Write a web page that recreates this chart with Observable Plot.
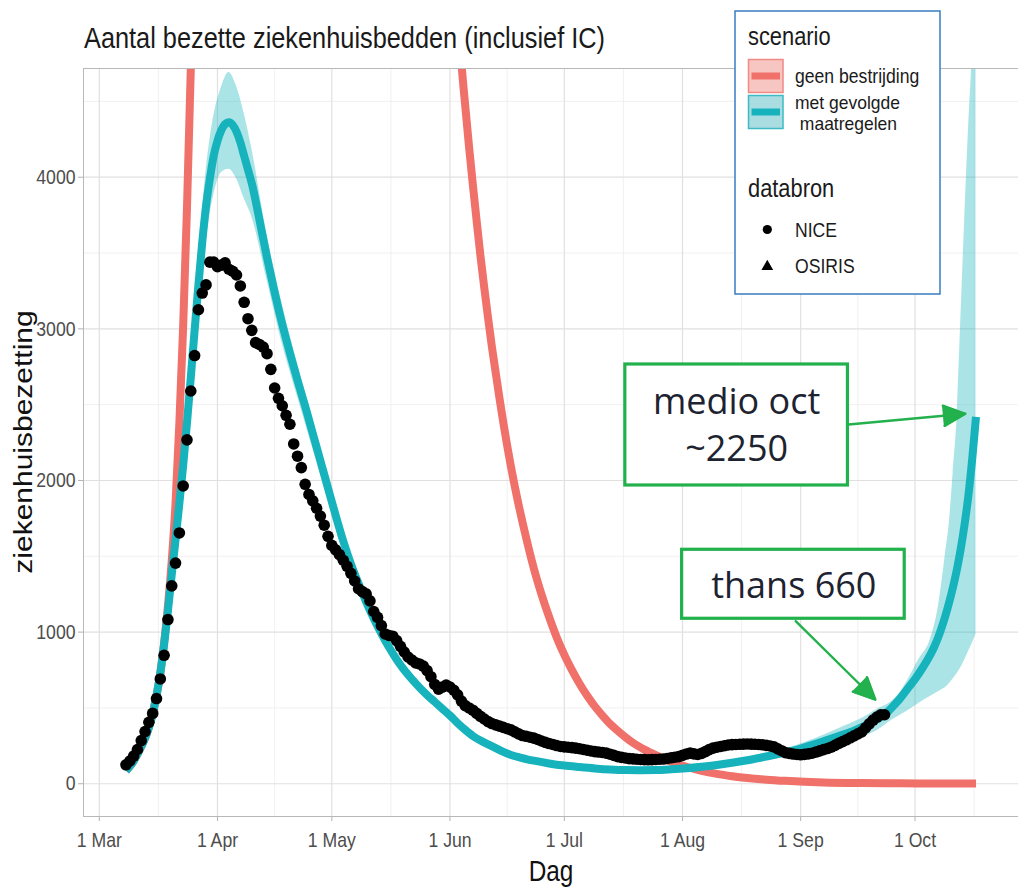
<!DOCTYPE html>
<html><head><meta charset="utf-8">
<script src="https://cdn.jsdelivr.net/npm/d3@7"></script>
<script src="https://cdn.jsdelivr.net/npm/@observablehq/plot@0.6"></script>
<style>
html,body{margin:0;padding:0;background:#fff;}
#wrap{position:relative;width:1018px;height:889px;overflow:hidden;background:#fff;}
#plot{position:absolute;left:0;top:60px;}
#over{position:absolute;left:0;top:0;}
</style></head>
<body><div id="wrap"><div id="plot"></div><svg id="over" width="1018" height="889"></svg></div>
<script>
// ---------- texts ----------
const chartTitle = "Aantal bezette ziekenhuisbedden (inclusief IC)";
const xTitle = "Dag";
const yTitle = "ziekenhuisbezetting";
const legendScenarioTitle = "scenario";
const legendScenarioLabels = [["geen bestrijding"], ["met gevolgde", " maatregelen"]];
const legendSourceTitle = "databron";
const legendSourceLabels = ["NICE", "OSIRIS"];

// ---------- axes ----------
const monthTicks = ["2020-03-01","2020-04-01","2020-05-01","2020-06-01","2020-07-01","2020-08-01","2020-09-01","2020-10-01"];
const monthLabels = ["1 Mar","1 Apr","1 May","1 Jun","1 Jul","1 Aug","1 Sep","1 Oct"];
const minorXTicks = ["2020-03-16T12:00Z","2020-04-16T00:00Z","2020-05-16T12:00Z","2020-06-16T00:00Z","2020-07-16T12:00Z","2020-08-16T12:00Z","2020-09-16T00:00Z","2020-10-16T12:00Z"];
const yTicks = [0, 1000, 2000, 3000, 4000];
const yMinorTicks = [500, 1500, 2500, 3500, 4500];
const xDomainDays = [-4.15, 241.15];   // days relative to 1 March 2020
const yDomain = [-216, 4717];

// ---------- NICE data: daily from 7 March 2020 ----------
const niceFirstDay = 7; // days after 1 March
const niceValues = [
 125,150,182,226,285,344,405,464,562,691,847,1083,1305,1455,1654,1964,2268,2590,2824,3126,
 3236,3290,3440,3440,3410,3420,3435,3393,3380,3355,3283,3175,3067,2990,2909,2897,2880,2836,2733,2610,
 2542,2493,2430,2371,2241,2160,2085,1975,1908,1866,1817,1765,1705,1632,1572,1543,1511,1474,1434,1388,
 1337,1286,1267,1252,1206,1136,1097,1043,988,978,973,944,906,869,836,816,797,790,776,746,
 706,655,624,637,651,638,617,586,545,515,500,485,464,444,427,410,397,388,380,372,
 363,355,342,329,318,313,307,301,292,282,273,265,259,252,246,243,241,238,235,231,
 226,221,216,212,209,206,202,195,187,179,174,170,166,164,162,160,159,158,159,160,
 162,163,167,171,175,179,187,196,202,197,193,200,212,225,235,241,246,251,256,258,
 259,260,261,262,261,260,259,257,253,249,243,230,218,205,200,196,193,191,194,197,
 201,209,217,225,232,241,253,266,278,290,303,316,329,342,368,395,420,440,455,455
];

// ---------- model: met gevolgde maatregelen ----------
const tealDays = [7,8,9,10,11,12,13,14,15,16,17,18,19,20,21,22,23,24,25,26,27,28,29,30,31,32,33,34,35,36,37,38,39,40,
 42,44,46,48,50,52,54,56,58,60,62,64,66,68,70,72,74,76,78,80,82,84,86,88,90,92,94,96,98,100,102,104,106,108,110,112,114,
 118,122,126,130,134,138,142,146,150,154,158,162,166,170,174,178,182,186,190,194,198,
 201,204,206,208,210,212,214,216,218,219,220,221,222,223,224,225,226,227,228,229,230];
const tealValues = [85,115,150,195,245,300,370,460,580,730,920,1140,1380,1610,1850,2100,2380,2680,2990,3290,3570,3810,3990,4140,4240,4310,4350,4363,4345,4300,4230,4140,4050,3960,
 3720,3470,3240,3030,2840,2660,2490,2310,2130,1950,1770,1600,1450,1320,1200,1090,990,900,820,750,690,635,585,540,495,450,400,355,315,285,260,235,210,190,175,163,152,
 134,120,110,101,94,90,89,90,95,102,112,124,138,155,175,195,218,248,280,315,350,
 385,425,455,505,560,625,690,765,850,900,960,1030,1110,1200,1300,1415,1550,1710,1900,2140,2420];
const ribbonDays = [7,10,13,16,19,22,25,28,30,32,34,36,38,40,44,48,52,56,60,64,68,72,76,80,84,88,92,96,100,104,108,112,118,126,134,142,150,158,166,174,182,190,196,200,204,208,210,212,215,218,220,221,222,223,224,225,226,227,228,229,230];
const ribbonLow  = [80,185,350,690,1310,1990,2830,3580,3880,4030,4053,3990,3860,3740,3320,2900,2550,2210,1870,1530,1265,1045,865,720,610,518,432,340,272,224,180,155,127,104,88,83,88,102,123,150,182,228,270,305,350,420,450,480,530,575,605,620,635,660,690,725,765,815,870,925,985];
const ribbonHigh = [90,205,390,770,1450,2210,3150,4040,4400,4590,4691,4600,4420,4190,3620,3160,2770,2410,2030,1670,1375,1135,935,780,660,562,468,370,298,248,202,172,142,118,101,96,103,122,152,195,245,320,385,430,490,545,600,680,820,950,1150,1320,1520,1720,2050,2400,3050,3700,4300,4800,5400];

// ---------- model: geen bestrijding ----------
const redDays = [7,9,11,13,15,16,17,18,19,20,21,22,23,24,25,26,28,32,40,50,60,70,80,86,90,92,94,95,96,97,98,99,100,101,102,103,104,105,106,107,108,109,110,112,114,116,118,120,122,124,126,128,130,132,134,136,138,140,143,146,150,154,158,162,166,170,175,180,185,190,200,210,220,230];
const redValues = [85,150,245,370,580,730,930,1170,1470,1850,2380,3020,3800,4717,5700,6900,9500,15000,24000,30000,28000,20000,12500,9000,7000,6100,5200,4760,4470,4200,3950,3710,3480,3270,3070,2880,2710,2540,2380,2230,2090,1960,1840,1620,1420,1250,1100,965,850,750,660,580,510,450,395,350,308,270,225,188,145,112,85,65,50,38,27,19,13,9,5,3,2,1];

// ---------- annotations (day offsets / values) ----------
const annLabels = ["medio oct\n~2250", "thans 660"];
const annBoxDay1 = [138.0, 152.9], annBoxDay2 = [196.4, 211.3];
const annBoxLow = [1967, 1088], annBoxHigh = [2765, 1543];
const annTextDay = [167.2, 182.2], annTextValue = [2383, 1325];
const arrowDay1 = [196.6, 182.7], arrowValue1 = [2369, 1072];
const arrowDay2 = [227.2, 203.6], arrowValue2 = [2440, 554];

// ---------- helpers ----------
const MAR1 = Date.UTC(2020, 2, 1), DAY = 864e5;
const toDate = d => new Date(MAR1 + d * DAY);
const labelOf = new Map(monthTicks.map((m, i) => [+new Date(m), monthLabels[i]]));

const niceData = niceValues.map((v, i) => ({date: toDate(niceFirstDay + i), v}));
const tealData = tealDays.map((d, i) => ({date: toDate(d), v: tealValues[i]}));
const ribbonData = ribbonDays.map((d, i) => ({date: toDate(d), lo: ribbonLow[i], hi: ribbonHigh[i]}));
const redData = redDays.map((d, i) => ({date: toDate(d), v: redValues[i]}));
const annData = annLabels.map((t, i) => ({
  label: t, x1: toDate(annBoxDay1[i]), x2: toDate(annBoxDay2[i]), y1: annBoxLow[i], y2: annBoxHigh[i],
  tx: toDate(annTextDay[i]), ty: annTextValue[i]
}));
const arrowData = arrowDay1.map((d, i) => ({x1: toDate(d), y1: arrowValue1[i], x2: toDate(arrowDay2[i]), y2: arrowValue2[i]}));

const RED = "#f0706a", TEAL = "#17b3bd", GREEN = "#22b14c";
const FONT = "'Liberation Sans', Arial, Helvetica, sans-serif";
const SQUEEZE = 0.84;

const chart = Plot.plot({
  width: 1018, height: 829,
  marginTop: 8, marginBottom: 73, marginLeft: 83, marginRight: 0,
  style: {fontFamily: FONT, fontSize: "21px", color: "#4d4d4d", background: "white", overflow: "visible"},
  x: {type: "utc", domain: xDomainDays.map(toDate), ticks: monthTicks.map(m => new Date(m)),
      tickFormat: d => labelOf.get(+d) ?? "", tickSize: 5, tickPadding: 11, label: null},
  y: {domain: yDomain, ticks: yTicks, tickFormat: d => String(d), tickSize: 5, tickPadding: 3, label: null},
  marks: [
    Plot.ruleX(minorXTicks.map(m => new Date(m)), {stroke: "#efecec", strokeWidth: 0.8}),
    Plot.ruleY(yMinorTicks, {stroke: "#efecec", strokeWidth: 0.8}),
    Plot.ruleX(monthTicks.map(m => new Date(m)), {stroke: "#e2dfdf", strokeWidth: 1.2}),
    Plot.ruleY(yTicks, {stroke: "#e2dfdf", strokeWidth: 1.2}),
    Plot.areaY(ribbonData, {x: "date", y1: "lo", y2: "hi", fill: TEAL, fillOpacity: 0.36, curve: "monotone-x", clip: true}),
    Plot.line(redData, {x: "date", y: "v", stroke: RED, strokeWidth: 8, strokeLinecap: "butt", curve: "monotone-x", clip: true}),
    Plot.line(tealData, {x: "date", y: "v", stroke: TEAL, strokeWidth: 8, strokeLinecap: "butt", curve: "monotone-x", clip: true}),
    Plot.dot(niceData, {x: "date", y: "v", r: 5.8, fill: "#000", stroke: "none"}),
    Plot.frame({stroke: "#b8b8b8", strokeWidth: 1}),
    Plot.rect(annData, {x1: "x1", x2: "x2", y1: "y1", y2: "y2", fill: "white", stroke: GREEN, strokeWidth: 3.2}),
    Plot.arrow(arrowData, {x1: "x1", y1: "y1", x2: "x2", y2: "y2", stroke: GREEN, strokeWidth: 2.4, headLength: 15, headAngle: 50}),
    Plot.text(annData, {x: "tx", y: "ty", text: "label", fontFamily: "'Open Sans', sans-serif", fontSize: 36, fill: "#1d2330", lineHeight: 1.3})
  ]
});
document.getElementById("plot").appendChild(chart);

// filled arrow heads (turn the chevron of each arrow into a closed triangle)
chart.querySelectorAll('[aria-label="arrow"] path').forEach(p => {
  const d = p.getAttribute("d") || "";
  const parts = d.split("M").filter(s => s.length);
  if (parts.length >= 2) {
    const head = document.createElementNS("http://www.w3.org/2000/svg", "path");
    head.setAttribute("d", "M" + parts[parts.length - 1] + "Z");
    head.setAttribute("fill", GREEN);
    head.setAttribute("stroke", GREEN);
    head.setAttribute("stroke-width", "1.5");
    head.setAttribute("stroke-linejoin", "miter");
    p.parentNode.appendChild(head);
  }
});

// tick styling: lighter tick marks, slightly condensed labels
chart.querySelectorAll('[aria-label$="axis tick"] path, .tick line').forEach(p => p.setAttribute("stroke", "#b3b3b3"));
chart.querySelectorAll('[aria-label$="tick label"] text, .tick text').forEach(t => {
  const len = t.getComputedTextLength();
  if (len > 0) { t.setAttribute("textLength", len * SQUEEZE); t.setAttribute("lengthAdjust", "spacingAndGlyphs"); }
});

// ---------- overlay: title, axis titles, legend ----------
const ov = d3.select("#over");
function squeeze(sel, k = SQUEEZE) {
  sel.each(function () {
    const len = this.getComputedTextLength();
    this.setAttribute("textLength", len * k);
    this.setAttribute("lengthAdjust", "spacingAndGlyphs");
  });
  return sel;
}
const tt = ov.append("text").attr("x", 84).attr("y", 48).attr("font-family", FONT).attr("font-size", 30).attr("fill", "#1a1a1a").text(chartTitle);
tt.attr("textLength", 521).attr("lengthAdjust", "spacingAndGlyphs");
ov.append("text").attr("transform", "translate(32,442) scale(0.84,1) rotate(-90)").attr("text-anchor", "middle")
  .attr("font-family", FONT).attr("font-size", 30).attr("fill", "#111").text(yTitle);
squeeze(ov.append("text").attr("x", 551).attr("y", 881).attr("text-anchor", "middle")
  .attr("font-family", FONT).attr("font-size", 29).attr("fill", "#111").text(xTitle));

const lg = ov.append("g");
lg.append("rect").attr("x", 735).attr("y", 11).attr("width", 205).attr("height", 283)
  .attr("fill", "white").attr("stroke", "#3a7dc0").attr("stroke-width", 1.5);
squeeze(lg.append("text").attr("x", 748).attr("y", 45).attr("font-family", FONT).attr("font-size", 26).attr("fill", "#1a1a1a").text(legendScenarioTitle));
const swatchFill = ["#f8c6c2", "#a9dde2"], swatchStroke = ["#f08a84", "#3dbac3"], swatchBar = [RED, TEAL];
legendScenarioLabels.forEach((lines, i) => {
  const top = 59.5 + i * 36;
  lg.append("rect").attr("x", 748.5).attr("y", top).attr("width", 34.5).attr("height", 33)
    .attr("fill", swatchFill[i]).attr("stroke", swatchStroke[i]).attr("stroke-width", 1.5);
  lg.append("rect").attr("x", 751.5).attr("y", top + 13).attr("width", 28.5).attr("height", 7).attr("fill", swatchBar[i]);
  if (lines.length === 1) {
    squeeze(lg.append("text").attr("font-family", FONT).attr("font-size", 20).attr("fill", "#1a1a1a")
      .attr("x", 795).attr("y", top + 23).text(lines[0]), 0.88);
  } else {
    squeeze(lg.append("text").attr("font-family", FONT).attr("font-size", 19).attr("fill", "#1a1a1a")
      .attr("x", 795).attr("y", top + 13.5).text(lines[0]), 0.92);
    squeeze(lg.append("text").attr("font-family", FONT).attr("font-size", 19).attr("fill", "#1a1a1a")
      .attr("x", 795).attr("y", top + 34).attr("xml:space", "preserve").text(lines[1]), 0.92);
  }
});
squeeze(lg.append("text").attr("x", 748).attr("y", 197).attr("font-family", FONT).attr("font-size", 26).attr("fill", "#1a1a1a").text(legendSourceTitle));
legendSourceLabels.forEach((s, i) => {
  const cy = 229.5 + i * 36;
  if (i === 0) lg.append("circle").attr("cx", 767.3).attr("cy", cy).attr("r", 4.6).attr("fill", "#000");
  else lg.append("path").attr("d", d3.symbol(d3.symbolTriangle, 60)()).attr("transform", `translate(767.3,${cy + 1})`).attr("fill", "#000");
  squeeze(lg.append("text").attr("x", 795).attr("y", cy + 7).attr("font-family", FONT).attr("font-size", 20).attr("fill", "#1a1a1a").text(s), 0.88);
});
</script></body></html>
